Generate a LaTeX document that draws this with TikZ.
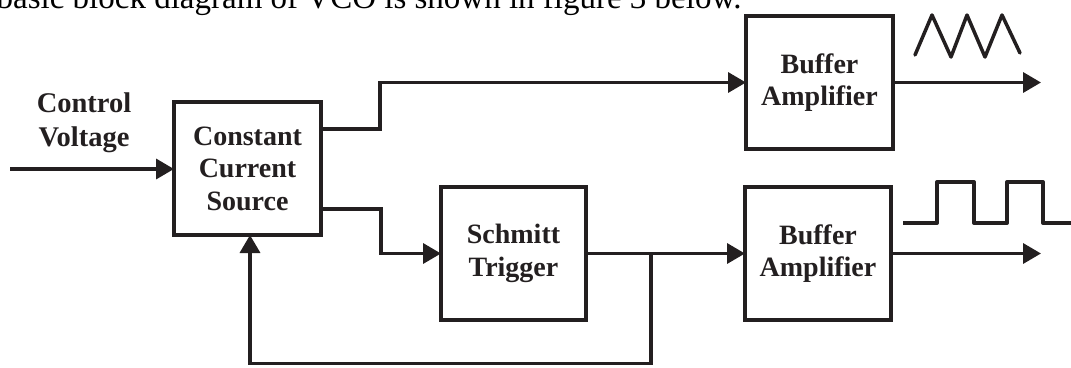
\documentclass[tikz,border=0pt]{standalone}
\usepackage{fontspec}
\setmainfont{Liberation Serif}
\usetikzlibrary{arrows.meta,calc}
\definecolor{ink}{HTML}{231F20}
\begin{document}
\begin{tikzpicture}[x=1pt,y=-1pt,
  wire/.style={draw=ink,line width=3.5pt},
  arr/.style={wire,-{Triangle[length=18pt,width=20pt]}},
  blk/.style={draw=ink,line width=4pt,fill=white,inner sep=0pt,outer sep=0pt,
    minimum width=147pt,minimum height=133pt,align=center,
    font=\fontsize{28}{32.5}\selectfont\bfseries,text=ink},
  lbl/.style={align=center,font=\fontsize{28.5}{34}\selectfont\bfseries,text=ink},
  wave/.style={draw=ink,line width=3.5pt,line cap=round,line join=round}]
\path[use as bounding box,clip] (0,0) rectangle (1071,367);
\node[anchor=base east,font=\fontsize{33}{36}\selectfont] (cap) at (745,8) {A basic block diagram of VCO is shown in figure 3 below.};
\node[blk] (ccs) at (247.5,168.5) {Constant\\Current\\Source};
\node[blk] (buf1) at (819.5,82.5) {Buffer\\Amplifier};
\node[blk,minimum width=146pt] (buf2) at (818,253.5) {Buffer\\Amplifier};
\node[blk,minimum width=145pt] (st) at (513.5,253.5) {Schmitt\\Trigger};
\node[lbl] (cv) at (84,123) {Control\\Voltage};
\coordinate (cin) at (10,169);
\draw[arr] (cin) -- (cin -| ccs.west);
\draw[arr] ([yshift=39.5pt]ccs.east) -- ++(59,0) |- (buf1.west);
\draw[arr] ([yshift=-40.5pt]ccs.east) -- ++(60,0) |- (st.west);
\draw[arr] (st.east) -- (buf2.west);
\coordinate (j) at ([xshift=65pt]st.east);
\draw[arr] (j) -- ++(0,110) -| ([xshift=2.5pt]ccs.south);
\draw[arr] (buf1.east) -- ++(148,0);
\draw[arr] (buf2.east) -- ++(150,0);
\draw[wave] (915,55) -- (932,15) -- (951,57) -- (967,15) -- (985,57) -- (1002,15) -- (1020,53);
\draw[wave,line width=4pt,line cap=butt] (903,223) -- (937,223) -- (937,182) -- (974,182) -- (974,223) -- (1007,223) -- (1007,182) -- (1043,182) -- (1043,223) -- (1075,223);
\end{tikzpicture}
\end{document}
